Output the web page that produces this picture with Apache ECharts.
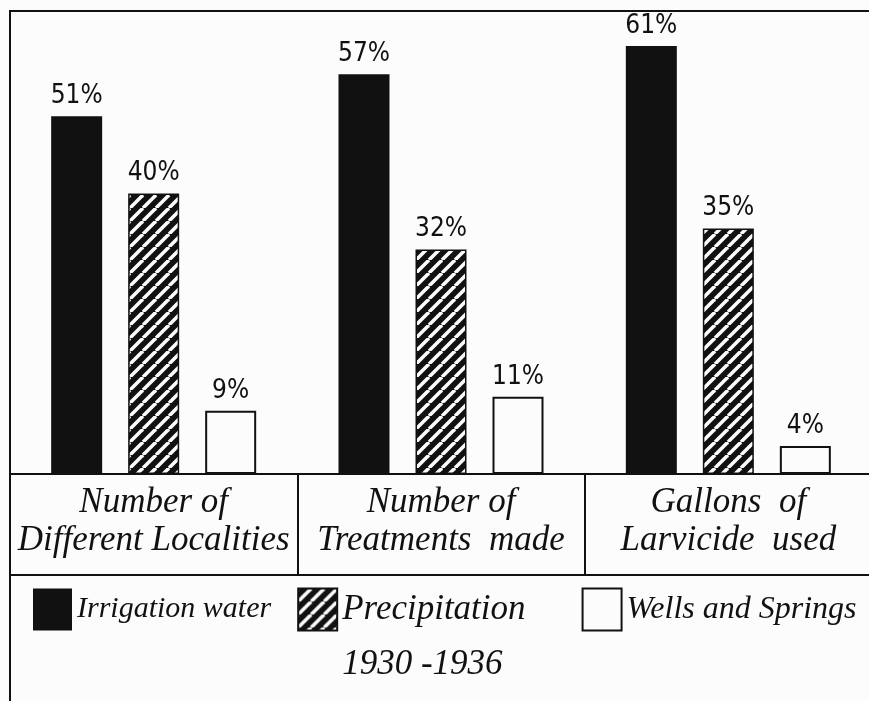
<!DOCTYPE html>
<html>
<head>
<meta charset="utf-8">
<script src="https://cdn.jsdelivr.net/npm/echarts@6/dist/echarts.min.js"></script>
<style>
  html, body { margin: 0; padding: 0; background: #fcfcfc; }
  #main { width: 869px; height: 701px; }
</style>
</head>
<body>
<div id="main"></div>
<script>
const measures = [
  "Number of\nDifferent Localities",
  "Number of\nTreatments  made",
  "Gallons  of\nLarvicide  used",
];
const sources = ["Irrigation water", "Precipitation", "Wells and Springs"];
const irrigation = [51, 57, 61];
const precipitation = [40, 32, 35];
const wells = [9, 11, 4];
const legendNotes = { Precipitation: "1930 -1936" };

const ink = "#111";
const paper = "#fcfcfc";
const letterFont = '"Liberation Serif", "DejaVu Serif", serif';
const numberFont = '"DejaVu Sans Condensed", "DejaVu Sans", sans-serif';

// diagonal stripes for the precipitation bars
const hatch = () => {
  const size = 13;
  const c = document.createElement("canvas");
  c.width = size;
  c.height = size;
  const ctx = c.getContext("2d");
  ctx.fillStyle = ink;
  ctx.fillRect(0, 0, size, size);
  ctx.strokeStyle = paper;
  ctx.lineWidth = 3.5;
  for (const k of [-size, 0, size]) {
    ctx.beginPath();
    ctx.moveTo(k, size);
    ctx.lineTo(k + size, 0);
    ctx.stroke();
  }
  return c;
};

const barLabel = {
  show: true,
  position: "top",
  distance: 7,
  formatter: "{c}%",
  color: ink,
  fontFamily: numberFont,
  fontSize: 26,
};

const chart = echarts.init(document.getElementById("main"));

chart.setOption({
  backgroundColor: paper,
  animation: false,
  grid: {
    left: 10,
    right: -3,
    top: 11,
    bottom: 227,
    outerBoundsMode: "none",
    containLabel: false,
    show: true,
    borderColor: ink,
    borderWidth: 2,
  },
  xAxis: {
    type: "category",
    data: measures,
    axisLine: { lineStyle: { color: ink, width: 2 } },
    axisTick: { show: true, length: 101, lineStyle: { color: ink, width: 2 } },
    axisLabel: {
      interval: 0,
      margin: 10,
      color: ink,
      fontFamily: letterFont,
      fontStyle: "italic",
      fontSize: 35,
      lineHeight: 38,
    },
  },
  yAxis: { type: "value", min: 0, max: 66, show: false },
  legend: {
    left: 28,
    top: 522,
    width: 860,
    selectedMode: false,
    itemWidth: 39,
    itemHeight: 42,
    itemGap: 26,
    icon: "rect",
    data: [
      { name: sources[0] },
      {
        name: sources[1],
        textStyle: { fontSize: 35, lineHeight: 55, padding: [0, 30, 0, 0] },
      },
      { name: sources[2], textStyle: { fontSize: 32 } },
    ],
    // empty first line keeps the name level with its box, the years go below
    formatter: (name) =>
      legendNotes[name] ? "\n" + name + "\n" + legendNotes[name] : name,
    textStyle: {
      color: ink,
      fontFamily: letterFont,
      fontStyle: "italic",
      fontSize: 30,
    },
  },
  graphic: [
    {
      type: "polyline",
      silent: true,
      shape: { points: [[10, 701], [10, 575], [869, 575]] },
      style: { stroke: ink, lineWidth: 2, fill: null },
    },
  ],
  series: [
    {
      name: sources[0],
      type: "bar",
      data: irrigation,
      barWidth: 51,
      barGap: "51%",
      itemStyle: { color: ink },
      label: barLabel,
    },
    {
      name: sources[1],
      type: "bar",
      data: precipitation,
      barWidth: 51,
      barGap: "51%",
      itemStyle: {
        color: { image: hatch(), repeat: "repeat" },
        borderColor: ink,
        borderWidth: 1.5,
      },
      label: barLabel,
    },
    {
      name: sources[2],
      type: "bar",
      data: wells,
      barWidth: 51,
      barGap: "51%",
      itemStyle: { color: paper, borderColor: ink, borderWidth: 2 },
      label: barLabel,
    },
  ],
});
</script>
</body>
</html>
